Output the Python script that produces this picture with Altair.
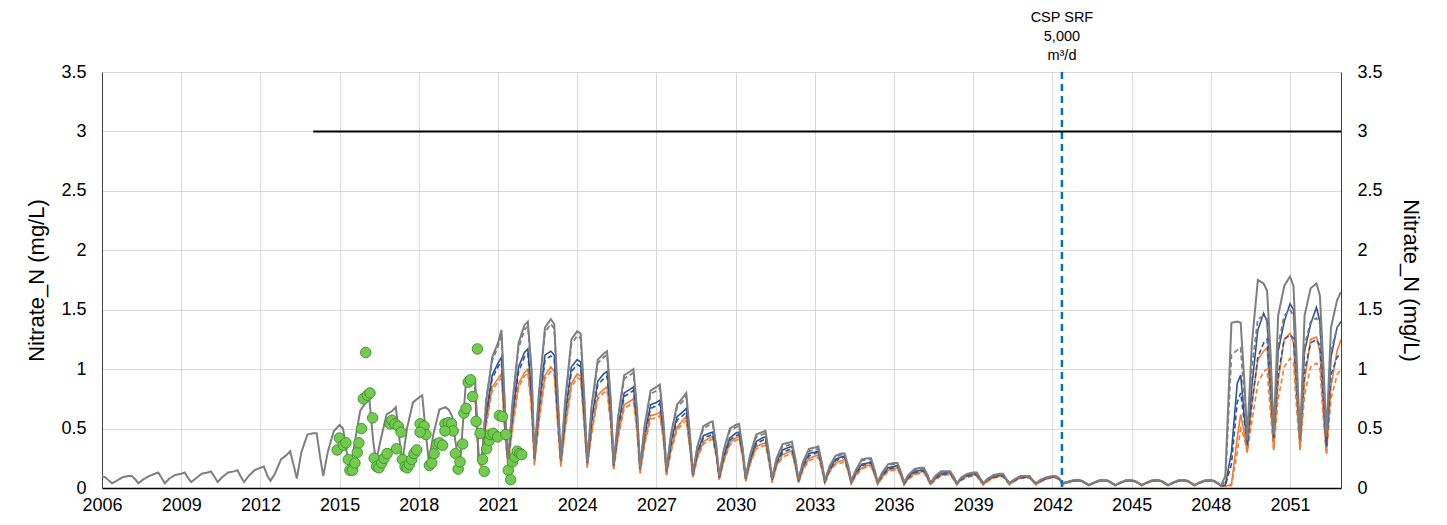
import altair as alt
import pandas as pd

# ---- time grid (sampling within each year) ----
YEARS = list(range(2006, 2053))
OFFSETS = [0.0, 0.13, 0.27, 0.38, 0.55, 0.78]
END_T = 2052.93
TIME = [y + o for y in YEARS for o in OFFSETS] + [END_T]

X_TICKS = [2006, 2009, 2012, 2015, 2018, 2021, 2024, 2027, 2030, 2033, 2036, 2039, 2042, 2045, 2048, 2051]
Y_TICKS = [0, 0.5, 1, 1.5, 2, 2.5, 3, 3.5]

# ---- simulated series ----
GRAY = [
    0.10, 0.09, 0.06, 0.04, 0.06, 0.09,   # 2006
    0.10, 0.10, 0.07, 0.04, 0.07, 0.10,   # 2007
    0.12, 0.13, 0.08, 0.04, 0.08, 0.11,   # 2008
    0.12, 0.13, 0.08, 0.05, 0.08, 0.12,   # 2009
    0.13, 0.14, 0.09, 0.05, 0.09, 0.13,   # 2010
    0.14, 0.15, 0.09, 0.05, 0.10, 0.15,   # 2011
    0.17, 0.18, 0.10, 0.06, 0.12, 0.24,   # 2012
    0.28, 0.31, 0.18, 0.08, 0.30, 0.45,   # 2013
    0.46, 0.46, 0.25, 0.10, 0.30, 0.48,   # 2014
    0.53, 0.50, 0.30, 0.14, 0.35, 0.65,   # 2015
    0.72, 0.74, 0.40, 0.22, 0.40, 0.62,   # 2016
    0.65, 0.68, 0.40, 0.22, 0.50, 0.72,   # 2017
    0.76, 0.78, 0.45, 0.22, 0.45, 0.66,   # 2018
    0.68, 0.66, 0.60, 0.40, 0.17, 0.88,   # 2019
    0.92, 0.92, 0.24, 0.21, 0.72, 1.10,   # 2020
    1.22, 1.33, 0.65, 0.23, 0.72, 1.22,   # 2021
    1.37, 1.40, 1.00, 0.26, 0.80, 1.35,   # 2022
    1.42, 1.38, 0.75, 0.24, 0.75, 1.25,   # 2023
    1.32, 1.30, 0.75, 0.22, 0.70, 1.08,   # 2024
    1.13, 1.15, 0.75, 0.20, 0.60, 0.95,   # 2025
    0.98, 1.00, 0.65, 0.17, 0.52, 0.82,   # 2026
    0.85, 0.87, 0.55, 0.15, 0.45, 0.70,   # 2027
    0.76, 0.80, 0.45, 0.12, 0.35, 0.52,   # 2028
    0.55, 0.56, 0.35, 0.10, 0.32, 0.50,   # 2029
    0.53, 0.54, 0.33, 0.09, 0.28, 0.45,   # 2030
    0.47, 0.48, 0.28, 0.08, 0.25, 0.37,   # 2031
    0.38, 0.39, 0.24, 0.07, 0.22, 0.33,   # 2032
    0.34, 0.35, 0.21, 0.06, 0.18, 0.27,   # 2033
    0.29, 0.29, 0.18, 0.06, 0.15, 0.24,   # 2034
    0.25, 0.25, 0.15, 0.05, 0.13, 0.20,   # 2035
    0.21, 0.21, 0.13, 0.05, 0.11, 0.16,   # 2036
    0.17, 0.17, 0.11, 0.04, 0.10, 0.14,   # 2037
    0.14, 0.14, 0.09, 0.04, 0.09, 0.12,   # 2038
    0.13, 0.13, 0.08, 0.04, 0.08, 0.11,   # 2039
    0.12, 0.12, 0.07, 0.04, 0.07, 0.10,   # 2040
    0.10, 0.10, 0.06, 0.04, 0.07, 0.09,   # 2041
    0.10, 0.10, 0.08, 0.04, 0.05, 0.065,  # 2042
    0.07, 0.06, 0.04, 0.025, 0.045, 0.065,   # 2043
    0.067, 0.06, 0.04, 0.025, 0.045, 0.065,  # 2044
    0.065, 0.06, 0.04, 0.025, 0.045, 0.065,  # 2045
    0.067, 0.06, 0.04, 0.025, 0.045, 0.065,  # 2046
    0.067, 0.06, 0.04, 0.025, 0.045, 0.065,  # 2047
    0.067, 0.06, 0.04, 0.02, 0.10, 1.39,     # 2048
    1.40, 1.39, 0.90, 0.42, 1.20, 1.75,   # 2049
    1.72, 1.66, 1.10, 0.45, 1.45, 1.70,   # 2050
    1.78, 1.70, 1.00, 0.40, 1.45, 1.68,   # 2051
    1.72, 1.62, 1.00, 0.45, 1.35, 1.58,   # 2052
    1.65,
]

GRAY_DASH = [
    0.90, 0.24, 0.21, 0.75, 1.07,         # 2020 (from .13)
    1.19, 1.29, 0.63, 0.23, 0.72, 1.18,   # 2021
    1.33, 1.36, 0.97, 0.26, 0.78, 1.31,   # 2022
    1.38, 1.34, 0.73, 0.24, 0.73, 1.21,   # 2023
    1.28, 1.26, 0.73, 0.22, 0.68, 1.05,   # 2024
    1.10, 1.12, 0.73, 0.20, 0.58, 0.92,   # 2025
    0.95, 0.97, 0.63, 0.17, 0.50, 0.79,   # 2026
    0.82, 0.84, 0.53, 0.15, 0.43, 0.68,   # 2027
    0.73, 0.77, 0.44, 0.12, 0.34, 0.50,   # 2028
    0.53, 0.54, 0.34, 0.10, 0.31, 0.48,   # 2029
    0.51, 0.52, 0.32, 0.09, 0.27, 0.43,   # 2030
    0.45, 0.46, 0.27, 0.08, 0.24, 0.35,   # 2031
    0.36, 0.37, 0.23, 0.07, 0.21, 0.31,   # 2032
    0.32, 0.33, 0.20, 0.06, 0.17, 0.26,   # 2033
    0.28, 0.28, 0.17, 0.06, 0.14, 0.23,   # 2034
    0.24, 0.24, 0.14, 0.05, 0.12, 0.19,   # 2035
    0.20, 0.20, 0.12, 0.05, 0.11, 0.15,   # 2036
    0.16, 0.16, 0.10, 0.04, 0.09, 0.13,   # 2037
    0.135, 0.135, 0.09, 0.04, 0.08, 0.115,   # 2038
    0.125, 0.125, 0.08, 0.04, 0.075, 0.105,  # 2039
    0.115, 0.115, 0.07, 0.04, 0.07, 0.095,   # 2040
    0.097, 0.097, 0.06, 0.04, 0.065, 0.088,  # 2041
    0.097, 0.097, 0.078, 0.04, 0.05, 0.064,  # 2042
    0.066, 0.059, 0.04, 0.025, 0.044, 0.064, # 2043
    0.066, 0.059, 0.04, 0.025, 0.044, 0.064, # 2044
    0.064, 0.059, 0.04, 0.025, 0.044, 0.064, # 2045
    0.066, 0.059, 0.04, 0.025, 0.044, 0.064, # 2046
    0.066, 0.059, 0.04, 0.025, 0.044, 0.064, # 2047
    0.066, 0.059, 0.04, 0.02, 0.06, 1.12,    # 2048
    1.16, 1.18, 0.75, 0.40, 1.00, 1.42,   # 2049
    1.45, 1.42, 0.90, 0.44, 1.20, 1.45,   # 2050
    1.50, 1.45, 0.85, 0.40, 1.20, 1.40,   # 2051
    1.43, 1.38, 0.85, 0.43, 1.15, 1.35,   # 2052
    1.40,
]

BLUE = [
    0.85, 0.24, 0.22, 0.62, 0.95,         # 2020 (from .13)
    1.05, 1.10, 0.55, 0.23, 0.62, 1.02,   # 2021
    1.14, 1.17, 0.80, 0.25, 0.68, 1.12,   # 2022
    1.15, 1.12, 0.62, 0.23, 0.62, 1.02,   # 2023
    1.08, 1.06, 0.62, 0.21, 0.58, 0.90,   # 2024
    0.96, 0.98, 0.65, 0.19, 0.52, 0.80,   # 2025
    0.83, 0.85, 0.57, 0.16, 0.45, 0.70,   # 2026
    0.72, 0.74, 0.48, 0.14, 0.38, 0.60,   # 2027
    0.64, 0.67, 0.40, 0.11, 0.30, 0.44,   # 2028
    0.46, 0.47, 0.30, 0.09, 0.27, 0.42,   # 2029
    0.46, 0.47, 0.29, 0.08, 0.24, 0.39,   # 2030
    0.42, 0.43, 0.25, 0.07, 0.22, 0.32,   # 2031
    0.34, 0.35, 0.21, 0.06, 0.19, 0.29,   # 2032
    0.30, 0.31, 0.19, 0.06, 0.16, 0.24,   # 2033
    0.26, 0.27, 0.16, 0.05, 0.13, 0.20,   # 2034
    0.21, 0.22, 0.13, 0.05, 0.11, 0.17,   # 2035
    0.18, 0.19, 0.12, 0.04, 0.10, 0.14,   # 2036
    0.15, 0.155, 0.10, 0.04, 0.09, 0.12,  # 2037
    0.13, 0.13, 0.08, 0.04, 0.08, 0.11,   # 2038
    0.12, 0.12, 0.07, 0.04, 0.07, 0.10,   # 2039
    0.11, 0.11, 0.07, 0.04, 0.07, 0.09,   # 2040
    0.095, 0.095, 0.06, 0.04, 0.06, 0.085,   # 2041
    0.095, 0.095, 0.075, 0.04, 0.05, 0.06,   # 2042
    0.065, 0.058, 0.04, 0.025, 0.043, 0.062, # 2043
    0.065, 0.058, 0.04, 0.025, 0.043, 0.062, # 2044
    0.063, 0.058, 0.04, 0.025, 0.043, 0.062, # 2045
    0.065, 0.058, 0.04, 0.025, 0.043, 0.062, # 2046
    0.065, 0.058, 0.04, 0.025, 0.043, 0.062, # 2047
    0.065, 0.058, 0.04, 0.02, 0.025, 0.30,   # 2048
    0.88, 0.95, 0.60, 0.36, 0.85, 1.33,   # 2049
    1.47, 1.40, 0.85, 0.43, 1.15, 1.40,   # 2050
    1.55, 1.50, 0.85, 0.43, 1.15, 1.38,   # 2051
    1.52, 1.40, 0.80, 0.35, 1.10, 1.35,   # 2052
    1.40,
]

BLUE_DASH = [
    0.82, 0.24, 0.22, 0.60, 0.92,         # 2020 (from .13)
    1.02, 1.06, 0.53, 0.23, 0.60, 0.98,   # 2021
    1.10, 1.13, 0.77, 0.25, 0.65, 1.08,   # 2022
    1.11, 1.08, 0.60, 0.23, 0.60, 0.98,   # 2023
    1.04, 1.02, 0.60, 0.21, 0.56, 0.87,   # 2024
    0.92, 0.94, 0.62, 0.19, 0.50, 0.77,   # 2025
    0.80, 0.82, 0.55, 0.16, 0.43, 0.67,   # 2026
    0.69, 0.71, 0.46, 0.14, 0.36, 0.57,   # 2027
    0.61, 0.64, 0.38, 0.11, 0.29, 0.42,   # 2028
    0.44, 0.45, 0.29, 0.09, 0.26, 0.40,   # 2029
    0.44, 0.45, 0.28, 0.08, 0.23, 0.37,   # 2030
    0.40, 0.41, 0.24, 0.07, 0.21, 0.30,   # 2031
    0.32, 0.33, 0.20, 0.06, 0.18, 0.27,   # 2032
    0.29, 0.30, 0.18, 0.06, 0.15, 0.23,   # 2033
    0.25, 0.26, 0.15, 0.05, 0.12, 0.19,   # 2034
    0.20, 0.21, 0.12, 0.05, 0.10, 0.16,   # 2035
    0.17, 0.18, 0.11, 0.04, 0.09, 0.13,   # 2036
    0.14, 0.145, 0.09, 0.04, 0.08, 0.11,  # 2037
    0.12, 0.12, 0.08, 0.04, 0.07, 0.10,   # 2038
    0.11, 0.11, 0.07, 0.04, 0.07, 0.09,   # 2039
    0.10, 0.10, 0.06, 0.04, 0.06, 0.085,  # 2040
    0.09, 0.09, 0.06, 0.04, 0.06, 0.08,   # 2041
    0.09, 0.09, 0.07, 0.04, 0.05, 0.06,   # 2042
    0.063, 0.056, 0.04, 0.025, 0.042, 0.06,  # 2043
    0.063, 0.056, 0.04, 0.025, 0.042, 0.06,  # 2044
    0.062, 0.056, 0.04, 0.025, 0.042, 0.06,  # 2045
    0.063, 0.056, 0.04, 0.025, 0.042, 0.06,  # 2046
    0.063, 0.056, 0.04, 0.025, 0.042, 0.06,  # 2047
    0.063, 0.056, 0.04, 0.02, 0.02, 0.20,    # 2048
    0.72, 0.80, 0.55, 0.38, 0.70, 1.10,   # 2049
    1.22, 1.25, 0.80, 0.42, 0.95, 1.25,   # 2050
    1.29, 1.26, 0.78, 0.42, 0.98, 1.22,   # 2051
    1.25, 1.20, 0.72, 0.36, 0.95, 1.10,   # 2052
    1.13,
]

ORANGE = [
    0.78, 0.22, 0.18, 0.55, 0.85,         # 2020 (from .13)
    0.92, 0.96, 0.45, 0.19, 0.52, 0.88,   # 2021
    0.97, 1.00, 0.68, 0.20, 0.57, 0.95,   # 2022
    1.02, 0.98, 0.52, 0.19, 0.52, 0.88,   # 2023
    0.96, 0.94, 0.52, 0.18, 0.48, 0.78,   # 2024
    0.83, 0.85, 0.55, 0.16, 0.44, 0.70,   # 2025
    0.73, 0.75, 0.48, 0.13, 0.38, 0.61,   # 2026
    0.62, 0.64, 0.41, 0.11, 0.32, 0.51,   # 2027
    0.57, 0.60, 0.34, 0.09, 0.26, 0.39,   # 2028
    0.42, 0.43, 0.27, 0.07, 0.23, 0.38,   # 2029
    0.42, 0.43, 0.26, 0.06, 0.21, 0.35,   # 2030
    0.37, 0.38, 0.22, 0.05, 0.19, 0.28,   # 2031
    0.30, 0.31, 0.18, 0.045, 0.16, 0.25,  # 2032
    0.27, 0.28, 0.16, 0.04, 0.14, 0.21,   # 2033
    0.23, 0.24, 0.14, 0.035, 0.11, 0.17,  # 2034
    0.19, 0.19, 0.11, 0.03, 0.09, 0.15,   # 2035
    0.16, 0.17, 0.10, 0.03, 0.08, 0.12,   # 2036
    0.135, 0.14, 0.08, 0.03, 0.07, 0.11,  # 2037
    0.12, 0.12, 0.07, 0.03, 0.07, 0.10,   # 2038
    0.11, 0.11, 0.06, 0.03, 0.06, 0.09,   # 2039
    0.10, 0.10, 0.06, 0.03, 0.06, 0.085,  # 2040
    0.09, 0.09, 0.05, 0.03, 0.055, 0.08,  # 2041
    0.09, 0.09, 0.07, 0.03, 0.045, 0.06,  # 2042
    0.063, 0.055, 0.035, 0.02, 0.04, 0.06,   # 2043
    0.063, 0.055, 0.035, 0.02, 0.04, 0.06,   # 2044
    0.062, 0.055, 0.035, 0.02, 0.04, 0.06,   # 2045
    0.063, 0.055, 0.035, 0.02, 0.04, 0.06,   # 2046
    0.063, 0.055, 0.035, 0.02, 0.04, 0.06,   # 2047
    0.063, 0.055, 0.035, 0.015, 0.015, 0.03, # 2048
    0.42, 0.62, 0.45, 0.30, 0.70, 1.08,   # 2049
    1.15, 1.18, 0.70, 0.32, 0.90, 1.25,   # 2050
    1.30, 1.22, 0.70, 0.32, 0.90, 1.25,   # 2051
    1.27, 1.15, 0.60, 0.30, 0.85, 1.15,   # 2052
    1.25,
]

ORANGE_DASH = [
    0.75, 0.21, 0.17, 0.52, 0.82,         # 2020 (from .13)
    0.89, 0.93, 0.43, 0.18, 0.50, 0.85,   # 2021
    0.94, 0.97, 0.65, 0.19, 0.55, 0.92,   # 2022
    0.98, 0.95, 0.50, 0.18, 0.50, 0.85,   # 2023
    0.93, 0.91, 0.50, 0.17, 0.46, 0.75,   # 2024
    0.80, 0.82, 0.53, 0.15, 0.42, 0.67,   # 2025
    0.70, 0.72, 0.46, 0.12, 0.36, 0.58,   # 2026
    0.59, 0.61, 0.39, 0.10, 0.30, 0.49,   # 2027
    0.54, 0.57, 0.32, 0.085, 0.25, 0.37,  # 2028
    0.40, 0.41, 0.26, 0.065, 0.22, 0.36,  # 2029
    0.40, 0.41, 0.25, 0.055, 0.20, 0.33,  # 2030
    0.35, 0.36, 0.21, 0.045, 0.18, 0.26,  # 2031
    0.28, 0.29, 0.17, 0.04, 0.15, 0.23,   # 2032
    0.25, 0.26, 0.15, 0.035, 0.13, 0.20,  # 2033
    0.21, 0.22, 0.13, 0.03, 0.10, 0.16,   # 2034
    0.18, 0.18, 0.10, 0.03, 0.085, 0.14,  # 2035
    0.15, 0.16, 0.09, 0.025, 0.075, 0.11, # 2036
    0.125, 0.13, 0.075, 0.025, 0.065, 0.10,  # 2037
    0.11, 0.11, 0.065, 0.025, 0.065, 0.09,   # 2038
    0.10, 0.10, 0.055, 0.025, 0.055, 0.085,  # 2039
    0.095, 0.095, 0.055, 0.025, 0.055, 0.08, # 2040
    0.085, 0.085, 0.05, 0.025, 0.05, 0.075,  # 2041
    0.085, 0.085, 0.065, 0.025, 0.04, 0.055, # 2042
    0.06, 0.052, 0.033, 0.018, 0.038, 0.057, # 2043
    0.06, 0.052, 0.033, 0.018, 0.038, 0.057, # 2044
    0.059, 0.052, 0.033, 0.018, 0.038, 0.057,# 2045
    0.06, 0.052, 0.033, 0.018, 0.038, 0.057, # 2046
    0.06, 0.052, 0.033, 0.018, 0.038, 0.057, # 2047
    0.06, 0.052, 0.033, 0.015, 0.015, 0.02,  # 2048
    0.30, 0.50, 0.42, 0.30, 0.55, 0.88,   # 2049
    0.98, 1.00, 0.60, 0.32, 0.75, 1.02,   # 2050
    1.09, 1.05, 0.60, 0.32, 0.78, 1.02,   # 2051
    1.05, 1.00, 0.55, 0.28, 0.75, 0.95,   # 2052
    1.00,
]

# ---- observed data (green circles) ----
OBS_T = [2014.99, 2014.91, 2015.14, 2015.24, 2015.33, 2015.39, 2015.49, 2015.58, 2015.67, 2015.73,
         2015.83, 2015.90, 2016.05, 2016.15, 2015.99, 2016.25, 2016.31, 2016.40, 2016.49, 2016.59,
         2016.68, 2016.80, 2016.91, 2016.98, 2017.10, 2017.22, 2017.16, 2017.33, 2017.38, 2017.48,
         2017.56, 2017.64, 2017.73, 2017.82, 2017.92, 2018.05, 2018.20, 2018.27, 2018.05, 2018.40,
         2018.49, 2018.58, 2018.68, 2018.78, 2018.90, 2018.99, 2019.12, 2019.24, 2019.30, 2018.99,
         2019.39, 2019.49, 2019.56, 2019.66, 2019.71, 2019.79, 2019.87, 2019.96, 2020.04, 2020.22,
         2020.17, 2020.32, 2020.41, 2020.48, 2020.57, 2020.67, 2020.72, 2020.82, 2020.99, 2021.05,
         2021.17, 2021.30, 2021.39, 2021.48, 2021.55, 2021.64, 2021.73, 2021.83, 2021.90]
OBS_V = [0.42, 0.32, 0.36, 0.38, 0.24, 0.15, 0.15, 0.21, 0.30, 0.38,
         0.50, 0.75, 0.78, 0.80, 1.14, 0.59, 0.25, 0.18, 0.17, 0.21,
         0.25, 0.29, 0.54, 0.57, 0.54, 0.52, 0.33, 0.47, 0.24, 0.18,
         0.17, 0.20, 0.24, 0.29, 0.32, 0.54, 0.52, 0.45, 0.47, 0.19,
         0.21, 0.29, 0.37, 0.38, 0.36, 0.54, 0.55, 0.54, 0.48, 0.48,
         0.29, 0.16, 0.22, 0.37, 0.63, 0.67, 0.89, 0.91, 0.77, 1.17,
         0.56, 0.46, 0.24, 0.14, 0.33, 0.40, 0.45, 0.46, 0.43, 0.61,
         0.60, 0.45, 0.15, 0.07, 0.22, 0.26, 0.31, 0.29, 0.28]

# ---- reference lines ----
LIMIT_VALUE = 3.0
LIMIT_START = 2014.0
SRF_YEAR = 2042.36
SRF_LABEL = ["CSP SRF", "5,000", "m³/d"]

FONT = "Liberation Sans"


def series_frame(vals):
    t = TIME[len(TIME) - len(vals):]
    return pd.DataFrame({"t": t, "v": vals})


X = alt.X("t:Q",
          scale=alt.Scale(domain=[2006, END_T], nice=False, zero=False),
          axis=alt.Axis(values=X_TICKS, format="d", title=None, grid=True,
                        gridColor="#d9d9d9", ticks=False, labelPadding=8,
                        labelFlush=False, labelOverlap=False,
                        domainColor="#000000", domainWidth=1.5,
                        labelFontSize=18, labelFont=FONT, labelColor="#000000"))
Y = alt.Y("v:Q",
          scale=alt.Scale(domain=[0, 3.5], nice=False),
          axis=alt.Axis(values=Y_TICKS, format="~g", title="Nitrate_N (mg/L)",
                        grid=True, gridColor="#d9d9d9", ticks=False, labelPadding=16,
                        labelFlush=False, labelOverlap=False,
                        domainColor="#404040", labelFontSize=18, labelFont=FONT,
                        labelColor="#000000", titleFont=FONT, titleFontSize=22,
                        titleFontWeight="normal", titleColor="#000000", titlePadding=12))

def line(vals, color, width, dash=None):
    kw = dict(color=color, strokeWidth=width, clip=True)
    if dash:
        kw["strokeDash"] = dash
    return alt.Chart(series_frame(vals)).mark_line(**kw).encode(x=X, y=Y)

DASH = [5, 3]
layers = [
    line(ORANGE_DASH, "#ED7D31", 1.6, DASH),
    line(ORANGE, "#ED7D31", 1.6),
    line(BLUE_DASH, "#2F5597", 1.6, DASH),
    line(BLUE, "#2F5597", 1.6),
    line(GRAY_DASH, "#7F7F7F", 1.8, DASH),
    line(GRAY, "#7F7F7F", 2.0),
]

obs = alt.Chart(pd.DataFrame({"t": OBS_T, "v": OBS_V})).mark_point(
    shape="circle", filled=True, size=110, fill="#74C94F", stroke="#3E9B30",
    strokeWidth=1, opacity=1
).encode(x=X, y=Y)

vline = alt.Chart(pd.DataFrame({"t": [SRF_YEAR]})).mark_rule(
    color="#0070C0", strokeWidth=2.5, strokeDash=[7, 5]
).encode(x=X)

label = alt.Chart(pd.DataFrame({"t": [SRF_YEAR]})).mark_text(
    text=SRF_LABEL, font=FONT, fontSize=14.5, lineHeight=19, align="center",
    baseline="middle", color="#000000"
).encode(x=X, y=alt.value(-54))

main = alt.layer(*layers, obs, vline, label)

limit = alt.Chart(pd.DataFrame({"t": [LIMIT_START], "t2": [END_T], "v": [LIMIT_VALUE]})).mark_rule(
    color="#000000", strokeWidth=2
).encode(
    x=X, x2="t2:Q",
    y=alt.Y("v:Q", scale=alt.Scale(domain=[0, 3.5], nice=False),
            axis=alt.Axis(orient="right", values=Y_TICKS, format="~g",
                          title="Nitrate_N (mg/L)", grid=False, ticks=False,
                          labelPadding=16, labelFlush=False, labelOverlap=False,
                          domainColor="#404040",
                          labelFontSize=18, labelFont=FONT, labelColor="#000000",
                          titleFont=FONT, titleFontSize=22, titleFontWeight="normal",
                          titleColor="#000000", titlePadding=16))
)

chart = alt.layer(main, limit).resolve_scale(y="independent").properties(
    width=1239, height=416,
    autosize=alt.AutoSizeParams(type="none"),
    padding={"left": 94, "top": 64, "right": 98, "bottom": 29},
).configure_view(stroke="#404040", strokeWidth=1.2).configure(background="white")

chart.save("out.html", embed_options={"renderer": "svg", "actions": False})
